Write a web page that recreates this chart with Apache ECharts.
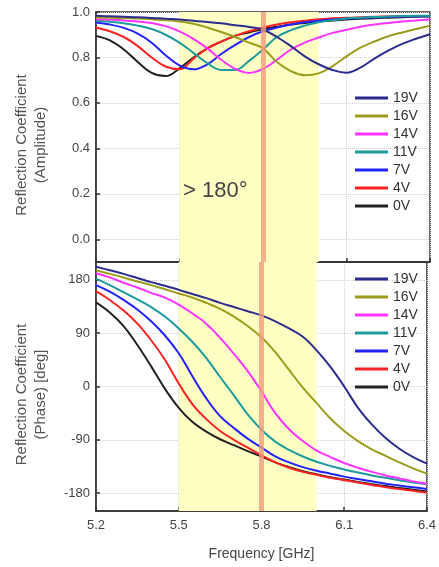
<!DOCTYPE html>
<html>
<head>
<meta charset="utf-8">
<script src="https://cdn.jsdelivr.net/npm/echarts@6/dist/echarts.min.js"></script>
<style>
  html, body { margin: 0; padding: 0; background: #fff; }
  #chart { width: 439px; height: 567px; }
</style>
</head>
<body>
<div id="chart"></div>
<script>
  // frequency samples (GHz)
  var freq = [5.2, 5.25, 5.3, 5.35, 5.4, 5.45, 5.5, 5.55, 5.6, 5.65, 5.7, 5.75, 5.8,
    5.85, 5.9, 5.95, 6.0, 6.05, 6.1, 6.15, 6.2, 6.25, 6.3, 6.35, 6.4]
  var names = ['19V', '16V', '14V', '11V', '7V', '4V', '0V']
  var colors = ['#2b2d8c', '#9c9c1c', '#ff33ff', '#1c9c9c', '#2222ff', '#ff2222', '#222222']
  var ampTicks = [0, 0.2, 0.4, 0.6, 0.8, 1.0]
  var phaseTicks = [-180, -90, 0, 90, 180]

  // amplitude
  var amp19 = [0.983, 0.981, 0.979, 0.977, 0.974, 0.970, 0.967, 0.962, 0.956, 0.950, 0.942, 0.934, 0.922,
    0.890, 0.850, 0.805, 0.770, 0.745, 0.733, 0.755, 0.795, 0.830, 0.860, 0.882, 0.902]
  var amp16 = [0.976, 0.975, 0.973, 0.971, 0.968, 0.964, 0.958, 0.948, 0.932, 0.912, 0.890, 0.865, 0.840,
    0.780, 0.740, 0.722, 0.730, 0.762, 0.805, 0.843, 0.870, 0.893, 0.910, 0.925, 0.940]
  var amp14 = [0.968, 0.966, 0.963, 0.958, 0.952, 0.938, 0.915, 0.882, 0.840, 0.790, 0.750, 0.732, 0.750,
    0.790, 0.835, 0.865, 0.888, 0.908, 0.922, 0.935, 0.945, 0.952, 0.958, 0.963, 0.967]
  var amp11 = [0.962, 0.957, 0.950, 0.940, 0.925, 0.900, 0.865, 0.820, 0.775, 0.745, 0.745, 0.785, 0.835,
    0.890, 0.920, 0.940, 0.955, 0.964, 0.971, 0.975, 0.978, 0.980, 0.982, 0.983, 0.984]
  var amp7 = [0.954, 0.945, 0.930, 0.905, 0.865, 0.810, 0.765, 0.748, 0.770, 0.815, 0.855, 0.890, 0.915,
    0.932, 0.945, 0.955, 0.962, 0.967, 0.971, 0.974, 0.976, 0.978, 0.980, 0.981, 0.982]
  var amp4 = [0.932, 0.915, 0.890, 0.850, 0.800, 0.760, 0.748, 0.795, 0.840, 0.870, 0.895, 0.915, 0.932,
    0.945, 0.955, 0.962, 0.968, 0.972, 0.975, 0.977, 0.979, 0.980, 0.981, 0.982, 0.982]
  var amp0 = [0.895, 0.875, 0.835, 0.780, 0.732, 0.718, 0.752, 0.800, 0.840, 0.870, 0.895, 0.910, 0.925,
    0.935, 0.945, 0.952, 0.958, 0.963, 0.967, 0.970, 0.973, 0.975, 0.977, 0.979, 0.980]

  // phase (deg)
  var ph19 = [202, 196, 190, 183, 176, 170, 163, 156, 149, 141, 134, 127, 120,
    110, 98, 84, 61, 33, 0, -36, -64, -87, -105, -119, -130]
  var ph16 = [196, 190, 184, 177, 171, 164, 157, 150, 141, 131, 118, 102, 83,
    58, 28, -2, -28, -54, -75, -92, -106, -117, -128, -138, -147]
  var ph14 = [191, 184, 175, 167, 158, 150, 138, 123, 106, 82, 55, 26, -8,
    -45, -72, -92, -108, -119, -129, -137, -144, -150, -155, -160, -164]
  var ph11 = [182, 171, 159, 147, 134, 118, 98, 75, 48, 16, -15, -47, -73,
    -93, -107, -118, -127, -134, -140, -145, -150, -154, -158, -162, -165]
  var ph7 = [171, 160, 146, 130, 110, 86, 56, 17, -20, -50, -70, -88, -103,
    -118, -128, -136, -142, -147, -152, -156, -160, -164, -167, -170, -173]
  var ph4 = [161, 146, 128, 106, 78, 45, 5, -30, -55, -75, -90, -103, -116,
    -128, -137, -144, -149, -154, -158, -162, -166, -170, -173, -176, -179]
  var ph0 = [142, 125, 102, 70, 34, -4, -36, -60, -76, -89, -99, -109, -118,
    -128, -136, -143, -148, -153, -157, -161, -165, -168, -171, -174, -177]

  var ampData = [amp19, amp16, amp14, amp11, amp7, amp4, amp0]
  var phData = [ph19, ph16, ph14, ph11, ph7, ph4, ph0]

  var pairs = function (vals) {
    return freq.map(function (f, i) { return [f, vals[i]] })
  }

  var series = []
  // highlighted band, one holder per plot
  ;[0, 1].forEach(function (g) {
    series.push({
      type: 'line', xAxisIndex: g, yAxisIndex: g, data: [], z: 1,
      markArea: { silent: true, itemStyle: { color: '#ffffc4' }, data: [[{ xAxis: 5.5 }, { xAxis: 6.0 }]] },
    })
  })
  for (var i = names.length - 1; i >= 0; i--) {
    [0, 1].forEach(function (g) {
      series.push({
        name: names[i],
        type: 'line',
        xAxisIndex: g,
        yAxisIndex: g,
        smooth: 0.4,
        showSymbol: false,
        z: 3,
        lineStyle: { width: 2, color: colors[i] },
        itemStyle: { color: colors[i] },
        data: pairs(g === 0 ? ampData[i] : phData[i]),
      })
    })
  }
  // 5.8 GHz marker
  ;[0, 1].forEach(function (g) {
    series.push({
      type: 'line', xAxisIndex: g, yAxisIndex: g, data: [], z: 5,
      markLine: {
        silent: true, symbol: 'none', label: { show: false },
        lineStyle: { color: '#f09c7c', width: 5, type: 'solid', opacity: 0.8 },
        data: [{ xAxis: 5.8 }],
      },
    })
  })

  var xBase = function (g) {
    return {
      type: 'value', gridIndex: g, min: 5.2, max: 6.4, interval: 0.3,
      axisLine: { show: true, onZero: false, lineStyle: { color: '#333', width: 1.5 } },
      axisTick: { show: true, inside: true, length: 4, lineStyle: { color: '#333', width: 1.5 } },
      splitLine: { show: true, lineStyle: { color: '#cfcfcf', type: 'dotted', width: 1 } },
      axisLabel: {
        show: g === 1, color: '#444', fontSize: 13, margin: 8,
        formatter: function (v) { return v.toFixed(1) },
      },
    }
  }
  // padding on the right nudges the rotated name a little downward
  var yName = { color: '#555', fontSize: 15, lineHeight: 19, padding: [0, 16, 0, 0], fontFamily: 'Liberation Sans, Arial' }

  var legendBase = function (top) {
    return {
      data: names, orient: 'vertical', left: 350, top: top,
      icon: 'rect', itemWidth: 33, itemHeight: 3, itemGap: 4,
      textStyle: { color: '#333', fontSize: 14, fontFamily: 'Liberation Sans, Arial' },
    }
  }

  var chart = echarts.init(document.getElementById('chart'))
  var option = {
    animation: false,
    textStyle: { fontFamily: 'Liberation Sans, Arial' },
    grid: [
      { left: 96, right: 9, top: 12, height: 250, show: true, borderColor: '#333', borderWidth: 1.5 },
      { left: 96, right: 9, top: 262, height: 249, show: true, borderColor: '#333', borderWidth: 1.5 },
    ],
    legend: [legendBase(86), legendBase(267)],
    graphic: [{
      type: 'text', left: 183, top: 180, z: 10,
      style: { text: '> 180°', fontSize: 22, fill: '#444', fontFamily: 'Liberation Sans, Arial' },
    }],
    xAxis: [
      xBase(0),
      Object.assign(xBase(1), {
        name: 'Frequency [GHz]', nameLocation: 'middle', nameGap: 36,
        nameTextStyle: { color: '#444', fontSize: 14 },
      }),
    ],
    yAxis: [
      {
        type: 'value', gridIndex: 0, min: -0.1, max: 1.0,
        name: 'Reflection Coefficient\n(Amplitude)', nameLocation: 'middle', nameGap: 46,
        nameTextStyle: yName,
        axisLine: { show: true, onZero: false, lineStyle: { color: '#333', width: 1.5 } },
        axisTick: { show: true, inside: true, length: 4, customValues: ampTicks, lineStyle: { color: '#333', width: 1.5 } },
        splitLine: { show: true, lineStyle: { color: '#cfcfcf', type: 'dotted', width: 1 } },
        axisLabel: {
          color: '#444', fontSize: 13, margin: 6, customValues: ampTicks,
          formatter: function (v) { return v.toFixed(1) },
        },
      },
      {
        type: 'value', gridIndex: 1, min: -210, max: 210,
        name: 'Reflection Coefficient\n(Phase) [deg]', nameLocation: 'middle', nameGap: 46,
        nameTextStyle: yName,
        axisLine: { show: true, onZero: false, lineStyle: { color: '#333', width: 1.5 } },
        axisTick: { show: true, inside: true, length: 4, customValues: phaseTicks, lineStyle: { color: '#333', width: 1.5 } },
        splitLine: { show: true, lineStyle: { color: '#cfcfcf', type: 'dotted', width: 1 } },
        axisLabel: { color: '#444', fontSize: 13, margin: 6, customValues: phaseTicks },
      },
    ],
    series: series,
  }
  chart.setOption(option)
</script>
</body>
</html>
